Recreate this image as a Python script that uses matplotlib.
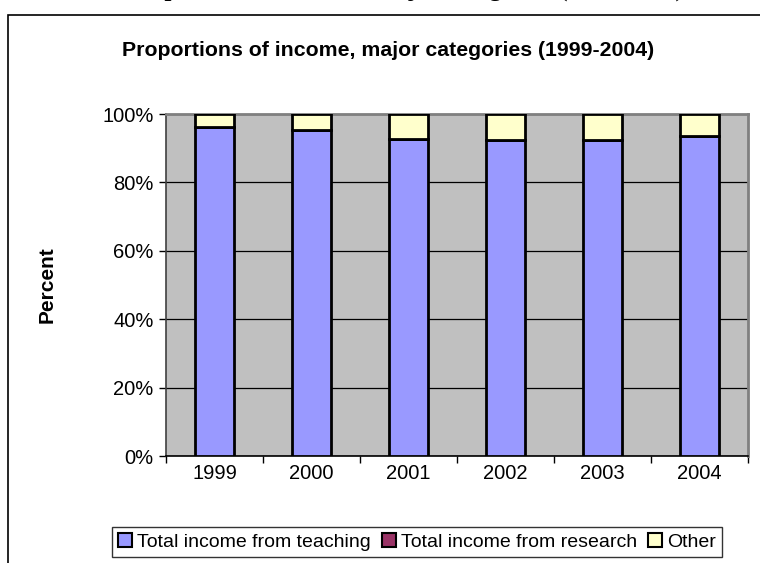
"""
Income proportions by major category, stacked 100% columns (1999-2004)
"""

import matplotlib
matplotlib.use("Agg")
import matplotlib.pyplot as plt
from matplotlib.patches import Rectangle
from matplotlib.ticker import FuncFormatter

plt.rcParams["font.family"] = ["Liberation Sans", "DejaVu Sans"]

# data (percent of total income)
years = ["1999", "2000", "2001", "2002", "2003", "2004"]
teaching = [96.2, 95.2, 92.8, 92.5, 92.3, 93.7]
research = [0.0, 0.0, 0.0, 0.0, 0.0, 0.0]
other = [3.8, 4.8, 7.2, 7.5, 7.7, 6.3]

series_names = ["Total income from teaching", "Total income from research", "Other"]
series_colors = ["#9999FF", "#993366", "#FFFFCC"]

W, H = 760, 563
fig = plt.figure(figsize=(W / 100, H / 100), dpi=100)

# page heading above the chart, only its descenders reach into the page
fig.text(0.5 + 25 / W, 1 + 4 / H, "Proportions of income, major categories (1999-2004)",
         family="Liberation Serif", fontweight="bold", fontsize=18,
         ha="center", va="baseline", color="black")

# chart frame
fig.patches.append(Rectangle((8 / W, -0.1), 2, 1 - 15 / H + 0.1,
                             transform=fig.transFigure, fill=False,
                             edgecolor="black", linewidth=1.2))

ax = fig.add_axes([166 / W, 1 - 456 / H, (748 - 166) / W, (456 - 114) / H])
ax.set_facecolor("#C0C0C0")

x = list(range(len(years)))
bottom = [0.0] * len(years)
for vals, name, col in zip([teaching, research, other], series_names, series_colors):
    ax.bar(x, vals, bottom=bottom, width=0.4, color=col, edgecolor="black",
           linewidth=2, label=name, zorder=3)
    bottom = [b + v for b, v in zip(bottom, vals)]

ax.set_xlim(-0.5, len(years) - 0.5)
ax.set_ylim(0, 100)
ax.set_yticks([0, 20, 40, 60, 80, 100])
ax.yaxis.set_major_formatter(FuncFormatter(lambda v, _: f"{v:.0f}%"))
ax.grid(axis="y", color="black", linewidth=0.9, zorder=1)

ax.set_xticks(x)
ax.set_xticklabels(years)
ax.set_xticks([i - 0.5 for i in range(len(years) + 1)], minor=True)
ax.tick_params(axis="x", which="major", length=0, pad=6, labelsize=14.5)
ax.tick_params(axis="x", which="minor", length=5, width=1, direction="out")
ax.tick_params(axis="y", length=5, width=1, direction="out", labelsize=14.5, pad=4)

for side in ["top", "right"]:
    ax.spines[side].set_color("#808080")
    ax.spines[side].set_linewidth(2)
ax.spines["left"].set_color("#404040")
ax.spines["bottom"].set_color("black")
ax.spines["left"].set_linewidth(1.2)
ax.spines["bottom"].set_linewidth(1.2)

ax.set_ylabel("Percent", fontsize=15, fontweight="bold", labelpad=33)

fig.text(0.5 + 8 / W, 1 - 50 / H, "Proportions of income, major categories (1999-2004)",
         ha="center", va="center", fontsize=15.3, fontweight="bold")

handles, labels = ax.get_legend_handles_labels()
leg = fig.legend(handles, labels, loc="center", ncol=3,
                 bbox_to_anchor=(417 / W, 1 - 542 / H), fontsize=14,
                 frameon=True, fancybox=False, edgecolor="black",
                 handlelength=0.7, handleheight=0.7, handletextpad=0.25,
                 columnspacing=0.6, borderpad=0.3, borderaxespad=0)
leg.get_frame().set_linewidth(1)
for h in leg.legend_handles:
    h.set_linewidth(1.5)

fig.savefig("out.png", dpi=100)
